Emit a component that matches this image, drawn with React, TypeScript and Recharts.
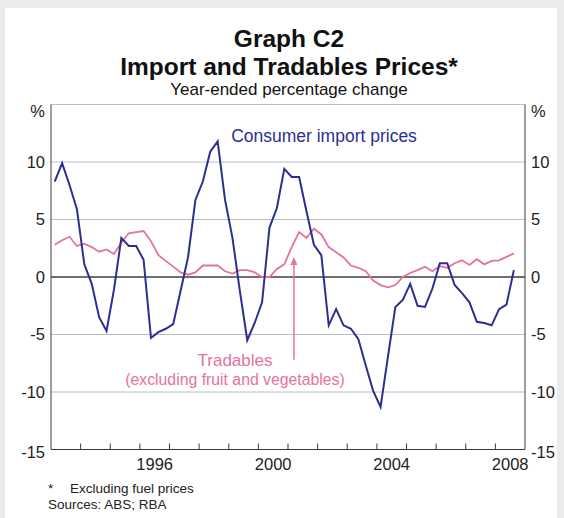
import React from "react";
import {
  LineChart,
  Line,
  XAxis,
  YAxis,
  CartesianGrid,
  ReferenceLine,
  ReferenceDot,
} from "recharts";

// quarterly, 1993 Q1 .. 2008 Q3
const START_YEAR = 1993;
const importPrices = [
  8.3, 9.9, 8.0, 5.9, 1.1, -0.6, -3.5, -4.7, -1.1, 3.4, 2.7, 2.7, 1.5, -5.3, -4.8, -4.5,
  -4.1, -1.2, 1.7, 6.7, 8.3, 10.9, 11.8, 6.7, 3.4, -1.2, -5.5, -4.0, -2.2, 4.3, 6.0, 9.4,
  8.7, 8.7, 5.7, 2.8, 1.9, -4.2, -2.8, -4.2, -4.5, -5.4, -7.7, -9.9, -11.3, -6.9, -2.6, -2.0,
  -0.6, -2.5, -2.6, -1.0, 1.2, 1.2, -0.7, -1.4, -2.2, -3.9, -4.0, -4.2, -2.8, -2.4, 0.6,
];
const tradables = [
  2.8, 3.2, 3.5, 2.7, 2.9, 2.6, 2.2, 2.4, 2.0, 3.0, 3.8, 3.9, 4.0, 3.1, 1.9, 1.4,
  0.9, 0.4, 0.2, 0.4, 1.0, 1.0, 1.0, 0.5, 0.3, 0.6, 0.6, 0.4, 0.0, 0.0, 0.7, 1.1,
  2.6, 3.9, 3.4, 4.2, 3.7, 2.6, 2.15, 1.7, 1.0, 0.8, 0.5, -0.3, -0.7, -0.9, -0.7, 0.0,
  0.35, 0.6, 0.9, 0.5, 0.95, 0.8, 1.2, 1.45, 1.05, 1.55, 1.1, 1.4, 1.45, 1.75, 2.05,
];
const yearTicks = [1993, 1994, 1995, 1996, 1997, 1998, 1999, 2000, 2001, 2002, 2003, 2004, 2005, 2006, 2007, 2008, 2009];
const labelledYears = [1996, 2000, 2004, 2008];
const yTicks = [-15, -10, -5, 0, 5, 10, 15];

const data = importPrices.map((v, i) => ({
  date: START_YEAR + Math.floor(i / 4) + ((i % 4) + 0.5) / 4,
  imports: v,
  tradables: tradables[i],
}));

const W = 564;
const H = 518;
const PLOT_LEFT = 51;
const PLOT_RIGHT = 525;
const PLOT_TOP = 104.5;
const PLOT_BOTTOM = 449.5;
const HALF_YEAR = (PLOT_RIGHT - PLOT_LEFT) / 16 / 2;

const FONT = "'Liberation Sans', Arial, sans-serif";
const BLUE = "#2b2f93";
const PINK = "#e6729f";
const FRAME = "#3a3a3a";
const TICK_FS = 16.5;

const XTick = (props: any) => {
  const { x, y, payload } = props;
  const v = payload.value;
  return (
    <g>
      {v > 1993 && v < 2009 && (
        <line x1={x} y1={y} x2={x} y2={y - 6} stroke={FRAME} strokeWidth={1} />
      )}
      {labelledYears.includes(v) && (
        <text
          x={x + HALF_YEAR}
          y={y + 9}
          dy="0.71em"
          textAnchor="middle"
          fontSize={TICK_FS}
          fill="#222"
          fontFamily={FONT}
        >
          {v}
        </text>
      )}
    </g>
  );
};

const YTick = (props: any) => {
  const { x, y, payload, textAnchor } = props;
  const v = payload.value;
  return (
    <text
      x={x}
      y={v === 15 ? y + 7 : v === -15 ? y + 3 : y}
      dy="0.355em"
      textAnchor={textAnchor}
      fontSize={TICK_FS}
      fill="#222"
      fontFamily={FONT}
    >
      {v === 15 ? "%" : v}
    </text>
  );
};

const ArrowHead = (props: any) => {
  const { cx, cy } = props;
  return (
    <path d={`M${cx},${cy} L${cx - 3.5},${cy + 8} L${cx + 3.5},${cy + 8} Z`} fill={PINK} />
  );
};

export default function App() {
  return (
    <div
      style={{
        position: "absolute",
        left: 0,
        top: 0,
        width: W,
        height: H,
        background: "#ebebeb",
        fontFamily: FONT,
      }}
    >
      <div
        style={{
          position: "absolute",
          left: 5,
          top: 8,
          width: 552,
          height: H - 8,
          background: "#fff",
        }}
      />
      <div style={{ position: "absolute", left: 0, top: 0 }}>
        <LineChart
          width={W}
          height={H}
          data={data}
          margin={{ top: PLOT_TOP, right: W - PLOT_RIGHT - 40, bottom: H - PLOT_BOTTOM - 40, left: PLOT_LEFT - 45 }}
        >
          <CartesianGrid yAxisId="left" vertical={false} stroke="#b7bfcc" strokeWidth={1} />
          <XAxis
            dataKey="date"
            type="number"
            domain={[1993, 2009]}
            ticks={yearTicks}
            interval={0}
            tick={<XTick />}
            tickLine={false}
            tickSize={0}
            tickMargin={0}
            height={40}
            axisLine={{ stroke: FRAME, strokeWidth: 1 }}
          />
          <XAxis
            xAxisId="top"
            orientation="top"
            dataKey="date"
            type="number"
            domain={[1993, 2009]}
            tick={false}
            tickLine={false}
            height={0}
            axisLine={{ stroke: FRAME, strokeWidth: 1 }}
          />
          <YAxis
            yAxisId="left"
            domain={[-15, 15]}
            ticks={yTicks}
            interval={0}
            width={45}
            tick={<YTick />}
            tickLine={false}
            tickSize={0}
            tickMargin={6}
            axisLine={{ stroke: FRAME, strokeWidth: 1 }}
          />
          <YAxis
            yAxisId="right"
            orientation="right"
            domain={[-15, 15]}
            ticks={yTicks}
            interval={0}
            width={40}
            tick={<YTick />}
            tickLine={false}
            tickSize={0}
            tickMargin={6}
            axisLine={{ stroke: FRAME, strokeWidth: 1 }}
          />
          <ReferenceLine yAxisId="left" y={0} stroke="#6f6f6f" strokeWidth={2} />
          {/* invisible twin so the right and top axes are drawn */}
          <Line
            xAxisId="top"
            yAxisId="right"
            dataKey="imports"
            stroke="none"
            dot={false}
            activeDot={false}
            legendType="none"
            isAnimationActive={false}
          />
          <Line
            yAxisId="left"
            dataKey="tradables"
            stroke={PINK}
            strokeWidth={1.8}
            dot={false}
            isAnimationActive={false}
          />
          <Line
            yAxisId="left"
            dataKey="imports"
            stroke={BLUE}
            strokeWidth={2}
            dot={false}
            isAnimationActive={false}
          />
          <ReferenceLine
            yAxisId="left"
            segment={[
              { x: 2001.2, y: -7.2 },
              { x: 2001.2, y: 1.2 },
            ]}
            stroke={PINK}
            strokeWidth={1.5}
          />
          <ReferenceDot yAxisId="left" x={2001.2} y={1.75} shape={<ArrowHead />} />
        </LineChart>
      </div>
      <svg
        width={W}
        height={H}
        style={{ position: "absolute", left: 0, top: 0, pointerEvents: "none" }}
        fontFamily={FONT}
      >
        <text x={289} y={47} textAnchor="middle" fontSize={24.5} fontWeight="bold" fill="#111">
          Graph C2
        </text>
        <text x={289} y={75} textAnchor="middle" fontSize={24.5} fontWeight="bold" fill="#111">
          Import and Tradables Prices*
        </text>
        <text x={289} y={95} textAnchor="middle" fontSize={17} fill="#111">
          Year-ended percentage change
        </text>
        <text x={324} y={142} textAnchor="middle" fontSize={17.5} fill={BLUE}>
          Consumer import prices
        </text>
        <text x={235} y={366} textAnchor="middle" fontSize={17} fill={PINK}>
          Tradables
        </text>
        <text x={235} y={385} textAnchor="middle" fontSize={15.8} fill={PINK}>
          (excluding fruit and vegetables)
        </text>
        <text x={48} y={493} fontSize={13.5} fill="#222">
          *
        </text>
        <text x={70} y={493} fontSize={13.5} fill="#222">
          Excluding fuel prices
        </text>
        <text x={48} y={509} fontSize={13.5} fill="#222">
          Sources: ABS; RBA
        </text>
      </svg>
    </div>
  );
}
